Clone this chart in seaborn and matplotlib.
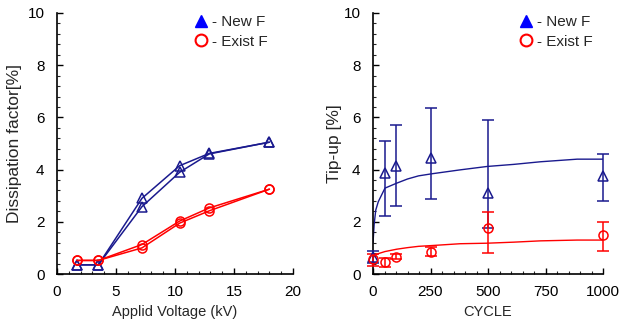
import matplotlib
matplotlib.use("Agg")
import matplotlib.pyplot as plt
import numpy as np
import pandas as pd
import seaborn as sns
from matplotlib.lines import Line2D
from matplotlib.ticker import MultipleLocator

# Left panel: dissipation factor vs applied voltage (two sweeps per sample)
voltage_kv = [1.7, 3.5, 7.2, 10.4, 12.9, 18.0]
new_df_up = [0.35, 0.35, 2.90, 4.15, 4.62, 5.05]
new_df_down = [0.35, 0.35, 2.58, 3.90, 4.60, 5.05]
exist_df_up = [0.52, 0.52, 1.13, 2.03, 2.53, 3.25]
exist_df_down = [0.52, 0.52, 1.00, 1.95, 2.42, 3.25]

# Right panel: tip-up vs cycle, mean with error bars
cycles = [0, 50, 100, 250, 500, 1000]
new_tip = [0.67, 3.86, 4.14, 4.46, 3.09, 3.76]
new_tip_hi = [0.88, 5.08, 5.69, 6.35, 5.91, 4.59]
new_tip_lo = [0.41, 2.24, 2.62, 2.86, 1.78, 2.81]
exist_tip = [0.56, 0.47, 0.66, 0.86, 1.76, 1.48]
exist_tip_hi = [0.77, 0.63, 0.77, 1.02, 2.39, 2.01]
exist_tip_lo = [0.32, 0.26, 0.58, 0.70, 0.79, 0.89]

# fitted trend curves
fit_cycle = [0, 5, 12, 23, 52, 103, 150, 198, 256, 379, 496, 612, 728, 888, 1000]
new_fit = [1.18, 1.9, 2.45, 2.77, 3.29, 3.48, 3.64, 3.76, 3.84, 3.99, 4.12, 4.20, 4.30, 4.40, 4.40]
exist_fit = [0.60, 0.68, 0.73, 0.78, 0.86, 0.95, 1.01, 1.06, 1.09, 1.16, 1.18, 1.22, 1.27, 1.30, 1.30]

NAVY = "#1a1a8e"
BLUE = "#0000ff"
RED = "#ff0000"

sns.set_style("ticks")
plt.rcParams["font.family"] = ["Liberation Sans", "DejaVu Sans"]
plt.rcParams["font.size"] = 10
plt.rcParams["xtick.direction"] = "in"
plt.rcParams["ytick.direction"] = "in"

fig = plt.figure(figsize=(6.21, 3.29), dpi=100)
ax1 = fig.add_axes([57 / 621, 55 / 329, 236 / 621, 261 / 329])
ax2 = fig.add_axes([373 / 621, 55 / 329, 230 / 621, 261 / 329])

# left panel
left = pd.DataFrame({"V": voltage_kv})
for ys, color, marker in [
    (new_df_up, NAVY, "^"),
    (new_df_down, NAVY, "^"),
    (exist_df_up, RED, "o"),
    (exist_df_down, RED, "o"),
]:
    sns.lineplot(
        x=left["V"], y=ys, ax=ax1, color=color, lw=1.1,
        marker=marker, markersize=6.5, markerfacecolor="none",
        markeredgecolor=color, markeredgewidth=1.1,
    )

ax1.set_xlim(0, 20)
ax1.set_ylim(0, 10)
ax1.xaxis.set_major_locator(MultipleLocator(5))
ax1.xaxis.set_minor_locator(MultipleLocator(1))
ax1.set_xlabel("Applid Voltage (kV)", labelpad=4, fontsize=10.5)
ax1.set_ylabel("Dissipation factor[%]", labelpad=4, fontsize=12.5)

# right panel
sns.lineplot(x=fit_cycle, y=new_fit, ax=ax2, color=NAVY, lw=1.0)
sns.lineplot(x=fit_cycle, y=exist_fit, ax=ax2, color=RED, lw=1.0)

for mean, hi, lo, color, marker in [
    (new_tip, new_tip_hi, new_tip_lo, NAVY, "^"),
    (exist_tip, exist_tip_hi, exist_tip_lo, RED, "o"),
]:
    mean = np.array(mean)
    err = [mean - np.array(lo), np.array(hi) - mean]
    ax2.errorbar(
        cycles, mean, yerr=err, fmt=marker, color=color, ecolor=color,
        markersize=6.5, markerfacecolor="none", markeredgewidth=1.1,
        elinewidth=1.1, capsize=4, capthick=1.1, clip_on=False, zorder=3,
    )

ax2.set_xlim(0, 1000)
ax2.set_ylim(0, 10)
ax2.xaxis.set_major_locator(MultipleLocator(250))
ax2.xaxis.set_minor_locator(MultipleLocator(50))
ax2.set_xlabel("CYCLE", labelpad=4, fontsize=10.5)
ax2.set_ylabel("Tip-up [%]", labelpad=1, fontsize=12.5)

handles = [
    Line2D([], [], ls="none", marker="^", color=BLUE, markersize=8.5, label="- New F"),
    Line2D([], [], ls="none", marker="o", color=RED, markerfacecolor="none",
           markeredgewidth=1.5, markersize=8.5, label="- Exist F"),
]

for ax, lx in [(ax1, 0.55), (ax2, 0.605)]:
    sns.despine(ax=ax)
    ax.yaxis.set_major_locator(MultipleLocator(2))
    ax.yaxis.set_minor_locator(MultipleLocator(0.4))
    for side in ["left", "bottom"]:
        ax.spines[side].set_linewidth(1.2)
        ax.spines[side].set_color("black")
    ax.tick_params(which="major", direction="in", length=4, width=1, colors="black",
                   labelsize=11)
    ax.tick_params(which="minor", direction="in", length=2.5, width=0.8)
    ax.tick_params(axis="x", which="major", pad=8)
    ax.tick_params(axis="y", which="major", pad=9)
    ax.legend(
        handles=handles, loc="upper left", bbox_to_anchor=(lx, 1.015),
        frameon=False, handlelength=1.0, handletextpad=0.25,
        labelspacing=0.35, borderaxespad=0, fontsize=11,
    )

fig.savefig("out.png", dpi=100)
